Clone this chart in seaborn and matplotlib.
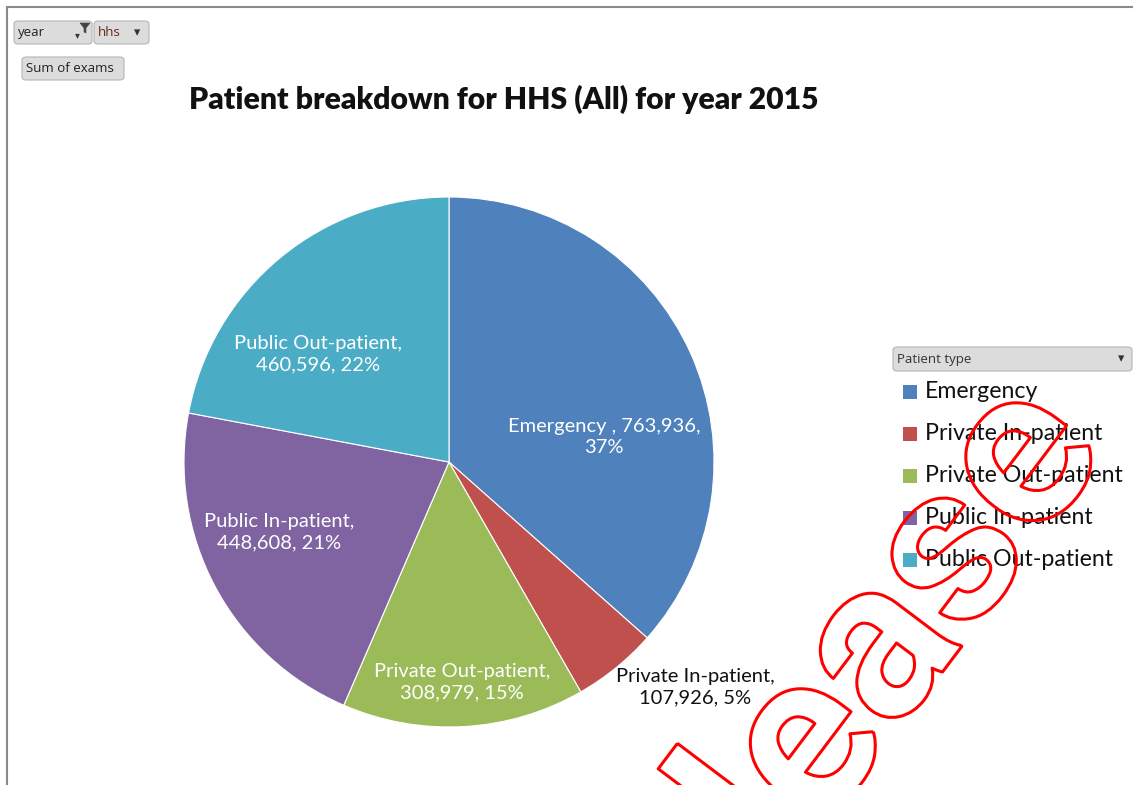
import numpy as np
import pandas as pd
import matplotlib
matplotlib.use("Agg")
import matplotlib.pyplot as plt
import seaborn as sns
from matplotlib.patches import FancyBboxPatch, Rectangle, Polygon
from matplotlib import patheffects as pe
from matplotlib.lines import Line2D

# ---- data ----
categories = ["Emergency", "Private In-patient", "Private Out-patient",
              "Public In-patient", "Public Out-patient"]
exams = [763936, 107926, 308979, 448608, 460596]
percents = [37, 5, 15, 21, 22]
label_names = ["Emergency ", "Private In-patient", "Private Out-patient",
               "Public In-patient", "Public Out-patient"]
title = "Patient breakdown for HHS (All) for year 2015"
legend_title = "Patient type"

df = pd.DataFrame({"type": categories, "exams": exams, "pct": percents})

sns.set_theme(style="white")
plt.rcParams["font.family"] = ["Lato", "DejaVu Sans"]

palette = sns.color_palette(["#4F81BD", "#C0504D", "#9BBB59", "#8064A2", "#4BACC6"])

W, H = 1133, 785
fig = plt.figure(figsize=(W / 100, H / 100), dpi=100)
fig.patch.set_facecolor("white")

def fx(x):
    return x / W

def fy(y):
    return 1 - y / H

# pie axes: centre (449,462), radius 265 px
cx, cy, r = 449, 462, 265
ax = fig.add_axes([fx(cx - r), fy(cy + r), 2 * r / W, 2 * r / H])
wedges, _ = ax.pie(df["exams"], colors=palette, startangle=90, counterclock=False,
                   radius=1.0, wedgeprops=dict(edgecolor="white", linewidth=0.8))
ax.set_xlim(-1, 1)
ax.set_ylim(-1, 1)
ax.set_aspect("equal")
ax.axis("off")

# data labels (positions relative to pie centre, in radius units)
label_pos = [(0.585, 0.094), (0.928, -0.849), (0.049, -0.830),
             (-0.642, -0.264), (-0.494, 0.408)]
label_col = ["white", "#111111", "white", "white", "white"]
for name, val, pct, pos, col in zip(label_names, df["exams"], df["pct"], label_pos, label_col):
    if name.startswith("Emergency"):
        txt = f"{name}, {val:,},\n{pct}%"
    else:
        txt = f"{name},\n{val:,}, {pct}%"
    ax.text(pos[0], pos[1], txt, ha="center", va="center", color=col,
            fontsize=14.5, linespacing=1.3, clip_on=False)

# title
fig.text(fx(504), fy(99), title, ha="center", va="center", fontsize=21.7,
         fontweight="heavy", color="#111111")

# frame lines
fig.add_artist(Line2D([fx(7), fx(7)], [fy(7), 0], color="#8a8a8a", lw=1.5))
fig.add_artist(Line2D([fx(7), 1], [fy(7), fy(7)], color="#8a8a8a", lw=1.5))

# pivot buttons
def button(x0, y0, x1, y1, text, arrow=None, color="#222222"):
    p = FancyBboxPatch((fx(x0), fy(y1)), fx(x1 - x0), (y1 - y0) / H,
                       boxstyle="round,pad=0,rounding_size=0.004",
                       transform=fig.transFigure, facecolor="#dcdcdc",
                       edgecolor="#b5b5b5", linewidth=0.8)
    fig.add_artist(p)
    fig.text(fx(x0 + 4), fy((y0 + y1) / 2), text,
             ha="left", va="center", fontsize=9.5, color=color,
             family=["Open Sans", "DejaVu Sans"])
    if arrow is not None:
        fig.text(fx(arrow), fy((y0 + y1) / 2), "\u25BE", ha="center", va="center",
                 fontsize=9, color="#333333", family=["DejaVu Sans"])

button(14, 21, 92, 44, "year")
fig.text(fx(77), fy(35), "\u25BE", ha="center", va="center", fontsize=7,
         color="#333333", family=["DejaVu Sans"])
# small filter funnel icon
funnel = [(80, 23), (90, 23), (86, 28), (86, 33), (84, 32), (84, 28)]
fig.add_artist(Polygon([(fx(a), fy(b)) for a, b in funnel], closed=True,
                       transform=fig.transFigure, facecolor="#444444",
                       edgecolor="#444444", linewidth=0.4))
button(94, 21, 149, 44, "hhs", arrow=137, color="#6b2a1a")
button(22, 57, 124, 80, "Sum of exams")

# legend header
p = FancyBboxPatch((fx(893), fy(371)), fx(1132 - 893), 24 / H,
                   boxstyle="round,pad=0,rounding_size=0.004",
                   transform=fig.transFigure, facecolor="#dcdcdc",
                   edgecolor="#b5b5b5", linewidth=0.8)
fig.add_artist(p)
fig.text(fx(897), fy(359), legend_title, ha="left", va="center", fontsize=9.5,
         color="#333333", family=["Open Sans", "DejaVu Sans"])
fig.text(fx(1121), fy(359), "\u25BE", ha="center", va="center", fontsize=9,
         color="#333333", family=["DejaVu Sans"])

# legend entries
for i, (name, c) in enumerate(zip(categories, palette)):
    y = 392 + 42 * i
    fig.add_artist(Rectangle((fx(903), fy(y + 7)), 14 / W, 14 / H,
                             transform=fig.transFigure, facecolor=c, edgecolor="none"))
    fig.text(fx(925), fy(y), name, ha="left", va="center", fontsize=16.7,
             color="#111111")

# watermark
wm = fig.text(fx(818), fy(735), "Release", ha="center", va="center",
              rotation=53, rotation_mode="anchor", fontsize=162,
              fontweight="bold", color="none", family=["Roboto", "DejaVu Sans"])
wm.set_path_effects([pe.Stroke(linewidth=2.2, foreground="#ff0000"), pe.Normal()])

fig.savefig("out.png", dpi=100, facecolor="white")
